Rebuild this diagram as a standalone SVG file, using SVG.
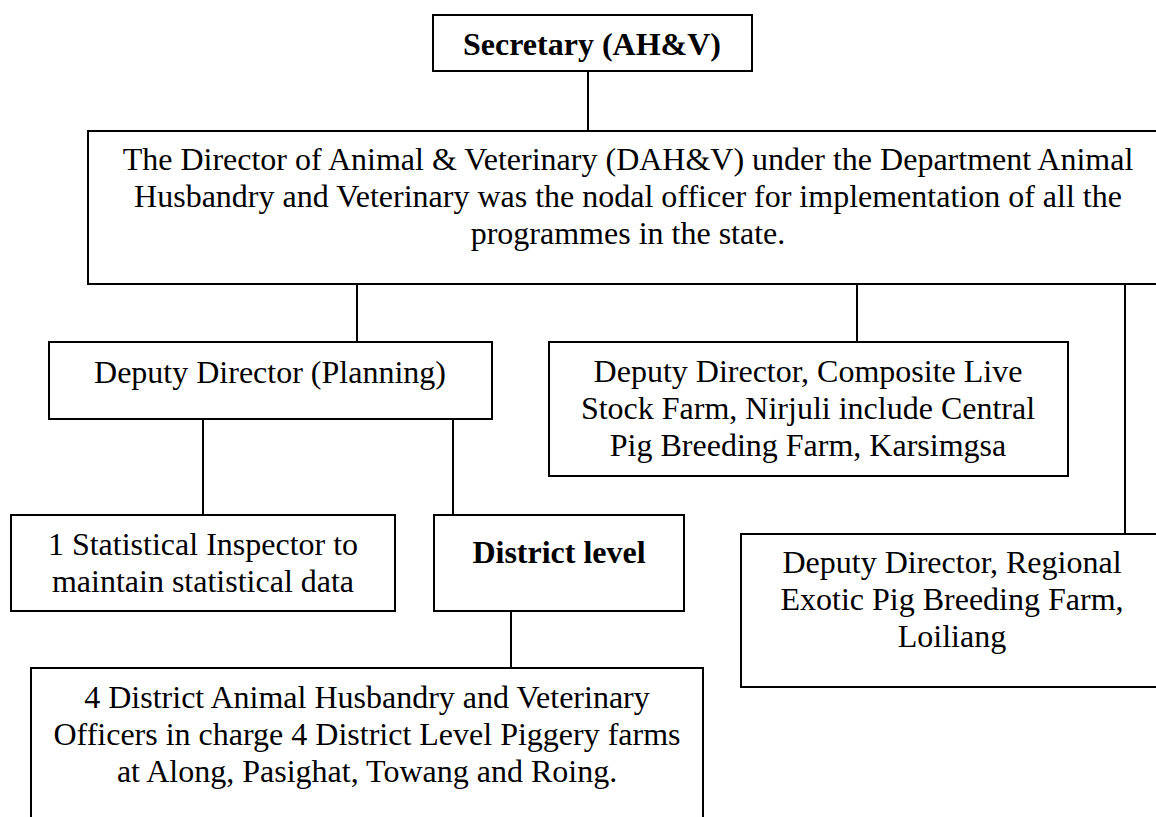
<svg xmlns="http://www.w3.org/2000/svg" width="1156" height="817" viewBox="0 0 1156 817">
<style>
.box{fill:#fff;stroke:#000;stroke-width:2}
.t{font-family:"Liberation Serif","Times New Roman",serif;font-size:32px;fill:#000;text-anchor:middle}
.b{font-weight:bold}
.c{stroke:#000;stroke-width:2;fill:none}
</style>
<rect width="1156" height="817" fill="#fff"/>
<g id="connectors">
<line class="c" x1="588" y1="71" x2="588" y2="131"/>
<line class="c" x1="357" y1="284" x2="357" y2="342"/>
<line class="c" x1="857" y1="284" x2="857" y2="342"/>
<line class="c" x1="1125" y1="284" x2="1125" y2="534"/>
<line class="c" x1="203" y1="419" x2="203" y2="515"/>
<line class="c" x1="453" y1="419" x2="453" y2="515"/>
<line class="c" x1="511" y1="611" x2="511" y2="668"/>
</g>
<g id="secretary">
<rect class="box" x="433" y="15" width="319" height="56"/>
<text class="t b" x="592" y="55">Secretary (AH&amp;V)</text>
</g>
<g id="director">
<rect class="box" x="88" y="131" width="1080" height="153"/>
<text class="t" x="628" y="170">The Director of Animal &amp; Veterinary (DAH&amp;V) under the Department Animal</text>
<text class="t" x="628" y="207">Husbandry and Veterinary was the nodal officer for implementation of all the</text>
<text class="t" x="628" y="244">programmes in the state.</text>
</g>
<g id="planning">
<rect class="box" x="49" y="342" width="443" height="77"/>
<text class="t" x="270" y="383">Deputy Director (Planning)</text>
</g>
<g id="composite">
<rect class="box" x="549" y="342" width="519" height="134"/>
<text class="t" x="808" y="382">Deputy Director, Composite Live</text>
<text class="t" x="808" y="419">Stock Farm, Nirjuli include Central</text>
<text class="t" x="808" y="456">Pig Breeding Farm, Karsimgsa</text>
</g>
<g id="statistical">
<rect class="box" x="11" y="515" width="384" height="96"/>
<text class="t" x="203" y="555">1 Statistical Inspector to</text>
<text class="t" x="203" y="592">maintain statistical data</text>
</g>
<g id="district">
<rect class="box" x="434" y="515" width="250" height="96"/>
<text class="t b" x="559" y="563">District level</text>
</g>
<g id="regional">
<rect class="box" x="741" y="534" width="422" height="153"/>
<text class="t" x="952" y="573">Deputy Director, Regional</text>
<text class="t" x="952" y="610">Exotic Pig Breeding Farm,</text>
<text class="t" x="952" y="647">Loiliang</text>
</g>
<g id="district-officers">
<rect class="box" x="31" y="668" width="672" height="170"/>
<text class="t" x="367" y="708">4 District Animal Husbandry and Veterinary</text>
<text class="t" x="367" y="745">Officers in charge 4 District Level Piggery farms</text>
<text class="t" x="367" y="782">at Along, Pasighat, Towang and Roing.</text>
</g>
</svg>
